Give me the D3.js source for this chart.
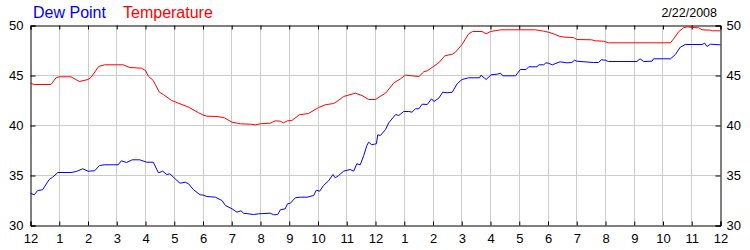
<!doctype html>
<html lang="en">
<head>
<meta charset="utf-8">
<script src="https://d3js.org/d3.v7.min.js"></script>
<style>
  body { margin: 0; background: #fff; }
  text { font-family: Arial, "Liberation Sans", sans-serif; }
</style>
</head>
<body>
<svg id="chart" width="750" height="250"></svg>
<script>
// hours since midnight
var tempHours = [0, 0.13, 0.71, 0.89, 1.0, 1.41, 1.70, 2.0, 2.11, 2.37, 2.58, 3.22, 3.45, 3.86, 4.0, 4.10, 4.27, 4.48, 4.62, 4.91, 5.50, 5.85,
  6.0, 6.14, 6.49, 6.74, 7.01, 7.3, 7.65, 7.82, 7.99, 8.34, 8.51, 8.69, 8.8, 8.94, 9.09, 9.35, 9.67, 10.02, 10.25, 10.54, 10.66, 10.89, 11.3, 11.53, 11.76,
  12.0, 12.12, 12.35, 12.64, 12.87, 13.04, 13.27, 13.51, 13.68, 13.8, 14.03, 14.2, 14.41, 14.67, 14.78, 15.01, 15.24, 15.38, 15.71, 15.85, 16.0, 16.35, 17.56, 17.85,
  18.01, 18.19, 18.42, 18.59, 18.88, 19.0, 19.52, 19.64, 19.93, 20.1, 22.26, 22.37, 22.55, 22.72, 22.84, 23.01, 23.24, 23.36, 23.65, 23.71, 24.0];
var tempValues = [44.23, 44.1, 44.1, 44.77, 44.87, 44.87, 44.4, 44.6, 44.83, 45.9, 46.07, 46.07, 45.8, 45.73, 45.5, 44.93, 44.5, 43.33, 43.1, 42.5, 41.83, 41.27,
  41.05, 40.93, 40.9, 40.77, 40.33, 40.17, 40.13, 40.07, 40.17, 40.23, 40.47, 40.43, 40.27, 40.47, 40.5, 41.07, 41.2, 41.8, 42.07, 42.2, 42.4, 42.9, 43.23, 43.0, 42.6,
  42.6, 42.83, 43.23, 44.27, 44.67, 45.03, 44.97, 44.9, 45.37, 45.47, 45.93, 46.27, 46.97, 47.13, 47.33, 48.1, 49.17, 49.4, 49.4, 49.17, 49.4, 49.57, 49.57, 49.43,
  49.33, 49.17, 48.9, 48.83, 48.8, 48.6, 48.57, 48.47, 48.43, 48.27, 48.27, 48.67, 49.4, 49.77, 49.87, 49.8, 49.77, 49.57, 49.53, 49.47, 49.47];

var dewHours = [0, 0.13, 0.25, 0.42, 0.65, 0.77, 0.95, 1.41, 1.59, 1.82, 2.0, 2.23, 2.4, 2.58, 3.05, 3.16, 3.34, 3.54, 3.8, 4.04, 4.27, 4.45, 4.6, 4.74, 4.85, 5.03, 5.2, 5.38, 5.5, 5.67, 5.9,
  6.0, 6.14, 6.43, 6.66, 6.78, 7.01, 7.18, 7.32, 7.41, 7.76, 7.94, 8.34, 8.46, 8.6, 8.69, 8.86, 8.94, 9.04, 9.21, 9.38, 9.62, 9.85, 9.94, 10.06, 10.19, 10.37, 10.52, 10.6, 10.72, 10.89, 11.12, 11.24, 11.35, 11.47, 11.59, 11.7, 11.76, 11.87, 11.96,
  12.03, 12.08, 12.17, 12.35, 12.46, 12.7, 12.81, 12.98, 13.16, 13.27, 13.39, 13.51, 13.62, 13.8, 13.95, 14.03, 14.2, 14.34, 14.49, 14.67, 14.84, 15.01, 15.24, 15.62, 15.67, 15.85, 16.02, 16.23, 16.35, 16.43, 16.87, 17.04, 17.24, 17.33, 17.62, 17.68, 17.85, 17.93,
  18.01, 18.15, 18.24, 18.42, 18.65, 18.83, 18.92, 19.0, 19.58, 19.76, 19.85, 19.99, 20.1, 21.09, 21.2, 21.33, 21.62, 21.67, 22.26, 22.43, 22.6, 22.78, 23.36, 23.45, 23.53, 23.65, 24.0];
var dewValues = [33.23, 33.07, 33.5, 33.57, 34.6, 34.83, 35.3, 35.3, 35.4, 35.67, 35.43, 35.47, 36.0, 36.07, 36.07, 36.47, 36.3, 36.57, 36.57, 36.33, 36.33, 35.27, 35.43, 35.1, 35.17, 34.67, 34.23, 34.33, 34.17, 33.57, 33.07,
  33.05, 32.9, 32.83, 32.5, 32.0, 31.67, 31.33, 31.47, 31.23, 31.1, 31.17, 31.23, 31.07, 31.1, 31.57, 31.67, 32.17, 32.23, 32.77, 32.83, 32.83, 33.0, 33.53, 33.43, 34.0, 34.47, 35.1, 34.77, 35.0, 35.43, 35.6, 35.43, 36.17, 36.07, 37.0, 38.0, 38.33, 38.07, 38.13,
  38.17, 39.07, 39.0, 39.6, 40.27, 41.1, 41.0, 41.4, 41.4, 41.33, 41.67, 41.67, 42.13, 42.1, 42.67, 42.4, 42.73, 43.33, 43.27, 43.33, 44.17, 44.6, 44.77, 44.77, 45.03, 44.6, 45.07, 45.13, 45.23, 44.97, 44.97, 45.6, 45.6, 45.87, 45.87, 46.07, 46.07, 46.27,
  46.23, 46.07, 46.17, 46.37, 46.27, 46.3, 46.53, 46.43, 46.3, 46.3, 46.57, 46.53, 46.4, 46.4, 46.67, 46.4, 46.43, 46.67, 46.67, 47.1, 47.83, 48.1, 48.1, 48.23, 47.9, 48.13, 48.07];

var hourLabels = ["12","1","2","3","4","5","6","7","8","9","10","11","12","1","2","3","4","5","6","7","8","9","10","11","12"];
var yTicks = [30, 35, 40, 45, 50];

(function draw(){
  var svg = d3.select("#chart");
  var pLeft = 30.5, pRight = 720.5, pTop = 25.5, pBottom = 225.5;

  var x = d3.scaleLinear().domain([0, 24]).range([pLeft, pRight]);
  var y = d3.scaleLinear().domain([30, 50]).range([pBottom, pTop]);
  var hours = d3.range(0, 25);
  var snap = function(v){ return Math.round(v - 0.5) + 0.5; };

  // grid
  svg.append("g").selectAll("line").data(hours.slice(1, 24)).enter().append("line")
    .attr("x1", function(d){ return snap(x(d)); })
    .attr("x2", function(d){ return snap(x(d)); })
    .attr("y1", pTop).attr("y2", pBottom)
    .style("stroke", "#cccccc");
  svg.append("g").selectAll("line").data([35, 40, 45]).enter().append("line")
    .attr("x1", pLeft).attr("x2", pRight)
    .attr("y1", function(d){ return y(d); })
    .attr("y2", function(d){ return y(d); })
    .style("stroke", "#cccccc");

  // axes
  var xBottom = d3.axisBottom(x).tickValues(hours).tickSize(-4).tickPadding(8)
    .tickFormat(function(d, i){ return hourLabels[i]; });
  var gxb = svg.append("g").attr("transform", "translate(0," + pBottom + ")").call(xBottom);
  var xTop = d3.axisTop(x).tickValues(hours).tickSize(-4).tickFormat("");
  var gxt = svg.append("g").attr("transform", "translate(0," + pTop + ")").call(xTop);
  var yLeft = d3.axisLeft(y).tickValues(yTicks).tickSize(-5).tickPadding(7);
  var gyl = svg.append("g").attr("transform", "translate(" + pLeft + ",0)").call(yLeft);
  var yRight = d3.axisRight(y).tickValues(yTicks).tickSize(-5).tickPadding(6);
  var gyr = svg.append("g").attr("transform", "translate(" + pRight + ",0)").call(yRight);

  [gxb, gxt, gyl, gyr].forEach(function(g){
    g.select(".domain").attr("stroke", "#000");
    g.selectAll(".tick line").attr("stroke", "#000");
    g.selectAll(".tick text").attr("fill", "#000")
      .style("font-size", "13px").style("font-family", "Arial, 'Liberation Sans', sans-serif");
  });

  // lines
  var line = d3.line()
    .x(function(d){ return x(d[0]); })
    .y(function(d){ return y(d[1]); });

  svg.append("path")
    .datum(d3.zip(tempHours, tempValues))
    .attr("d", line)
    .attr("fill", "none")
    .attr("stroke", "#ff0000")
    .attr("stroke-width", 1);

  svg.append("path")
    .datum(d3.zip(dewHours, dewValues))
    .attr("d", line)
    .attr("fill", "none")
    .attr("stroke", "#0000ff")
    .attr("stroke-width", 1);

  // titles
  svg.append("text").attr("x", 33).attr("y", 18)
    .text("Dew Point").style("font-size", "16px").attr("fill", "#0000ff");
  svg.append("text").attr("x", 123).attr("y", 18)
    .text("Temperature").style("font-size", "16px").attr("fill", "#ff0000");
  svg.append("text").attr("x", 717).attr("y", 17).attr("text-anchor", "end")
    .text("2/22/2008").style("font-size", "12.5px").attr("fill", "#000");
})();
</script>
</body>
</html>
